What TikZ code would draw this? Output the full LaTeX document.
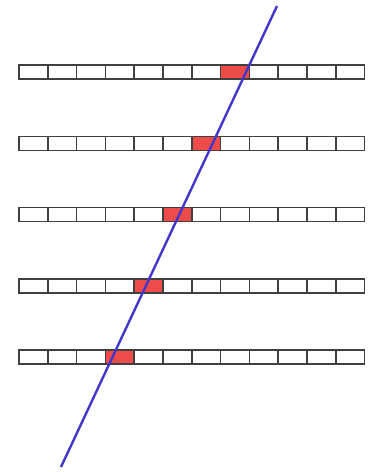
\documentclass[tikz,border=0pt]{standalone}
\usepackage{tikz}
\usetikzlibrary{positioning,calc}

\definecolor{cellred}{RGB}{240,75,75}
\definecolor{lineblue}{RGB}{65,55,200}

\begin{document}
\begin{tikzpicture}[x=1pt, y=-1pt, thick,
    cell/.style={draw=black!75, line width=1.5pt, rectangle, minimum width=28.8pt, minimum height=14pt, inner sep=0pt, outer sep=0pt},
    hit/.style={cell, fill=cellred}]
        \useasboundingbox (0,0) rectangle (372,472);
        % rows of cells, one red cell per row
        \foreach \r/\h in {1/7, 2/6, 3/5, 4/4, 5/3} {
            \foreach \c in {0,...,11} {
                \pgfmathsetmacro{\yy}{72+71.25*(\r-1)}
                \ifnum\c=\h
                    \node[hit] (c\r-\c) at ({33.4+28.8*\c},\yy) {};
                \else
                    \node[cell] (c\r-\c) at ({33.4+28.8*\c},\yy) {};
                \fi
            }
        }
        \coordinate (top) at (277,6);
        \coordinate (bottom) at (61,467);
        \draw[lineblue, line width=2.4pt] (bottom) -- (top);
    \end{tikzpicture}
\end{document}
